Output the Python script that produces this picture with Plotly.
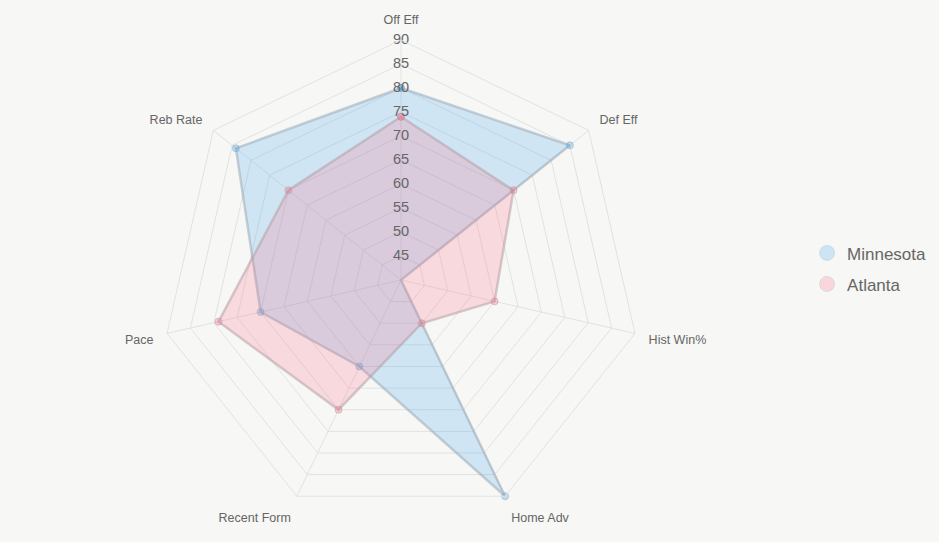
import plotly.graph_objects as go

categories = ["Off Eff", "Def Eff", "Hist Win%", "Home Adv", "Recent Form", "Pace", "Reb Rate"]
minnesota = [80, 85, 40, 90, 60, 70, 84]
atlanta = [74, 70, 60, 50, 70, 79, 70]
tick_vals = [45, 50, 55, 60, 65, 70, 75, 80, 85, 90]
tick_text = [str(v) for v in tick_vals]

series = [
    ("Minnesota", minnesota, "rgba(54,162,235,0.2)", "rgba(150,165,178,0.5)", "rgba(54,162,235,0.3)"),
    ("Atlanta", atlanta, "rgba(255,99,132,0.2)", "rgba(175,155,160,0.5)", "rgba(255,99,132,0.3)"),
]

fig = go.Figure()
for name, vals, fillc, linec, markc in series:
    fig.add_trace(go.Scatterpolar(
        r=vals + vals[:1], theta=categories + categories[:1],
        mode="lines+markers", fill="toself", fillcolor=fillc,
        line=dict(color=linec, width=2.5),
        marker=dict(size=7, color=markc, line=dict(color=linec, width=1)),
        name=name, showlegend=False, hoverinfo="skip",
    ))

# tick labels along the Off Eff spoke
fig.add_trace(go.Scatterpolar(
    r=tick_vals, theta=[categories[0]] * len(tick_vals), mode="text",
    text=tick_text, textfont=dict(size=14.5, color="#666666", family="Liberation Sans"),
    textposition="middle center", showlegend=False, hoverinfo="skip",
))

# legend entries
for name, vals, fillc, linec, markc in series:
    fig.add_trace(go.Scatterpolar(
        r=[None], theta=[categories[0]], mode="markers", name=name, legendgroup=name,
        marker=dict(size=15, color=fillc.replace("0.2)", "0.22)"), line=dict(color="rgba(180,180,180,0.3)", width=1)),
    ))

fig.update_layout(
    width=939, height=542,
    margin=dict(l=0, r=0, t=0, b=0),
    paper_bgcolor="#f7f7f5", plot_bgcolor="#f7f7f5",
    font=dict(family="Liberation Sans", color="#666666"),
    polar=dict(
        domain=dict(x=[161 / 939, 641 / 939], y=[1 - 520 / 542, 1 - 40 / 542]),
        bgcolor="#f7f7f5",
        gridshape="linear",
        radialaxis=dict(
            range=[40, 90], tickvals=tick_vals, showticklabels=False, ticks="",
            showline=False, gridcolor="#e2e2e2", gridwidth=1, angle=90,
        ),
        angularaxis=dict(
            direction="clockwise", rotation=90, gridcolor="#e2e2e2", linecolor="#e2e2e2",
            ticks="outside", ticklen=11, tickcolor="rgba(0,0,0,0)",
            tickfont=dict(size=12.5, color="#666666", family="Liberation Sans"),
        ),
    ),
    legend=dict(
        x=0.8595, y=0.504, xanchor="left", yanchor="middle",
        font=dict(size=17, color="#666666", family="Liberation Sans"),
        bgcolor="rgba(0,0,0,0)", itemsizing="trace", tracegroupgap=6,
    ),
)

fig.write_html("out.html")
